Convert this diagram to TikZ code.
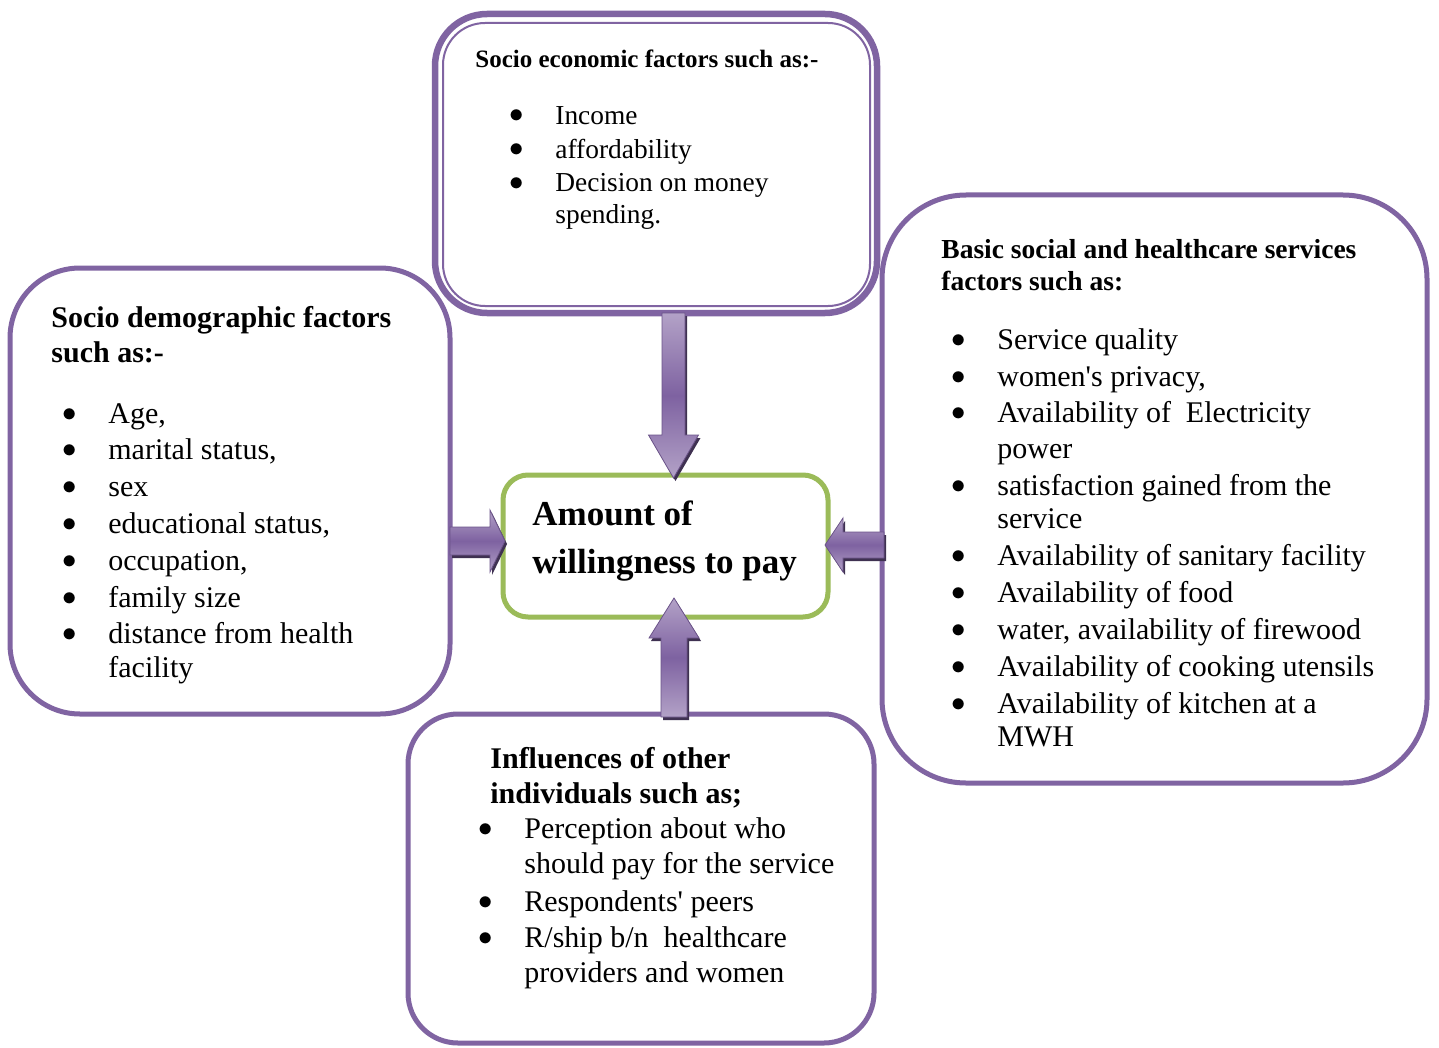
\documentclass[tikz,border=0pt]{standalone}
\usepackage{fontspec}
\newfontfamily\rf{Liberation Serif}
\usetikzlibrary{calc}
\definecolor{pur}{HTML}{8064A2}
\definecolor{grn}{HTML}{9BBB59}
\definecolor{arrlight}{HTML}{B3A2C7}
\definecolor{arrdark}{HTML}{7E62A1}
\definecolor{arrshade}{HTML}{3F3151}
\newdimen\pxu \pxu=0.5pt
\newcommand\bul{\llap{\makebox[78\pxu]{\raisebox{1pt}{$\bullet$}}}}
% #1 style, #2 base, #3 tip, #4 dx, #5 dy, #6 shaft half, #7 head half, #8 head length
\newcommand\fatarrow[8]{%
  \path[#1] ($(#2)+({-(#6)*(#5)},{(#6)*(#4)})$)
    -- ($(#3)+({-(#8)*(#4)-(#6)*(#5)},{-(#8)*(#5)+(#6)*(#4)})$)
    -- ($(#3)+({-(#8)*(#4)-(#7)*(#5)},{-(#8)*(#5)+(#7)*(#4)})$)
    -- (#3)
    -- ($(#3)+({-(#8)*(#4)+(#7)*(#5)},{-(#8)*(#5)-(#7)*(#4)})$)
    -- ($(#3)+({-(#8)*(#4)+(#6)*(#5)},{-(#8)*(#5)-(#6)*(#4)})$)
    -- ($(#2)+({(#6)*(#5)},{-(#6)*(#4)})$) -- cycle;}
\begin{document}
\begin{tikzpicture}[x=0.5pt,y=-0.5pt,
  box/.style={draw=pur, line width=2.5pt, fill=white, outer sep=0pt, inner sep=0pt},
  body/.style={font=\rf\fontsize{15pt}{18pt}\selectfont, anchor=base west, inner sep=0pt},
  head/.style={font=\rf\bfseries\fontsize{15pt}{18pt}\selectfont, anchor=base west, inner sep=0pt},
  arrbody/.style={top color=arrlight, bottom color=arrlight, middle color=arrdark, draw=arrdark!85!black, line width=0.4pt},
  arrshadow/.style={fill=arrshade}]
\useasboundingbox[fill=white] (0,0) rectangle (1439,1048);

% boxes
\node[box, rounded corners=35pt, minimum width=220pt, minimum height=223pt] (left) at (230,491) {};
\node[box, rounded corners=42pt, minimum width=272.5pt, minimum height=294pt] (right) at (1154.5,489) {};
\node[box, rounded corners=25pt, minimum width=233pt, minimum height=164.5pt] (bot) at (641,878.5) {};
\node[box, line width=3.25pt, rounded corners=26pt, minimum width=221pt, minimum height=149.5pt] (top) at (656,163.5) {};
\node[draw=pur, line width=1pt, rounded corners=21pt, minimum width=213.5pt, minimum height=141.5pt, outer sep=0pt, inner sep=0pt] (topin) at (656.5,164.5) {};
\node[draw=grn, fill=white, line width=2.5pt, rounded corners=12.5pt, minimum width=162.5pt, minimum height=71pt, outer sep=0pt, inner sep=0pt] (mid) at (665.5,546) {};

% arrow end points
\coordinate (ax1) at (673.5,0);
\coordinate (ax2) at (674,0);
\coordinate (ay1) at (0,541);
\coordinate (ay2) at (0,545);
\coordinate (t1) at (top.south -| ax1);
\coordinate (t2) at ($(mid.north -| ax1)+(0,3)$);
\coordinate (b1) at ($(bot.north -| ax2)+(0,3)$);
\coordinate (b2) at ($(mid.south -| ax2)+(0,-19)$);
\coordinate (l1) at (left.east |- ay1);
\coordinate (l2) at ($(mid.west |- ay1)+(2,0)$);
\coordinate (r1) at ($(right.west |- ay2)+(2,0)$);
\coordinate (r2) at ($(mid.east |- ay2)+(-3,0)$);

% shadows
\begin{scope}[transform canvas={shift={(1pt,-1.5pt)}}]
\fatarrow{arrshadow}{t1}{t2}{0}{1}{11.5}{25}{43}
\fatarrow{arrshadow}{b1}{b2}{0}{-1}{13}{25}{40}
\fatarrow{arrshadow}{l1}{l2}{1}{0}{14}{31}{15}
\fatarrow{arrshadow}{r1}{r2}{-1}{0}{13}{27}{18}
\end{scope}
% arrows
\fatarrow{arrbody}{t1}{t2}{0}{1}{11.5}{25}{43}
\fatarrow{arrbody}{b1}{b2}{0}{-1}{13}{25}{40}
\fatarrow{arrbody}{l1}{l2}{1}{0}{14}{31}{15}
\fatarrow{arrbody}{r1}{r2}{-1}{0}{13}{27}{18}

% top box text
\node[head, font=\rf\bfseries\fontsize{12.5pt}{15pt}\selectfont] (th1) at (475,68) {Socio economic factors such as:-};
\foreach \y/\t [count=\i] in {125/{\bul Income}, 159/{\bul affordability}, 192/{\bul Decision on money}, 224/{spending.}}
  \node[body, font=\rf\fontsize{13.7pt}{16pt}\selectfont] (ti\i) at (555,\y) {\t};

% left box text
\foreach \y/\t [count=\i] in {327/{Socio demographic factors}, 362/{such as:-}}
  \node[head] (lh\i) at (51,\y) {\t};
\foreach \y/\t [count=\i] in {423/{\bul Age,}, 459/{\bul marital status,}, 496/{\bul sex}, 533/{\bul educational status,}, 570/{\bul occupation,}, 607/{\bul family size}, 643/{\bul distance from health}, 677/{facility}}
  \node[body] (li\i) at (108,\y) {\t};

% right box text
\foreach \y/\t [count=\i] in {258/{Basic social and healthcare services}, 290/{factors such as:}}
  \node[head, font=\rf\bfseries\fontsize{13.75pt}{16pt}\selectfont] (rh\i) at (941,\y) {\t};
\foreach \y/\t [count=\i] in {349/{\bul Service quality}, 386/{\bul women's privacy,}, 422/{\bul Availability of~ Electricity}, 458/{power}, 495/{\bul satisfaction gained from the}, 528/{service}, 565/{\bul Availability of sanitary facility}, 602/{\bul Availability of food}, 639/{\bul water, availability of firewood}, 676/{\bul Availability of cooking utensils}, 713/{\bul Availability of kitchen at a}, 746/{MWH}}
  \node[body] (ri\i) at (997,\y) {\t};

% bottom box text
\foreach \y/\t [count=\i] in {768/{Influences of other}, 803/{individuals such as;}}
  \node[head] (bh\i) at (490,\y) {\t};
\foreach \y/\t [count=\i] in {838/{\bul Perception about who}, 873/{should pay for the service}, 911/{\bul Respondents' peers}, 947/{\bul R/ship b/n~ healthcare}, 982/{providers and women}}
  \node[body] (bi\i) at (524,\y) {\t};

% centre text
\foreach \y/\t [count=\i] in {525/{Amount of}, 573/{willingness to pay}}
  \node[head, font=\rf\bfseries\fontsize{17.5pt}{20pt}\selectfont] (mt\i) at (532,\y) {\t};
\end{tikzpicture}
\end{document}
